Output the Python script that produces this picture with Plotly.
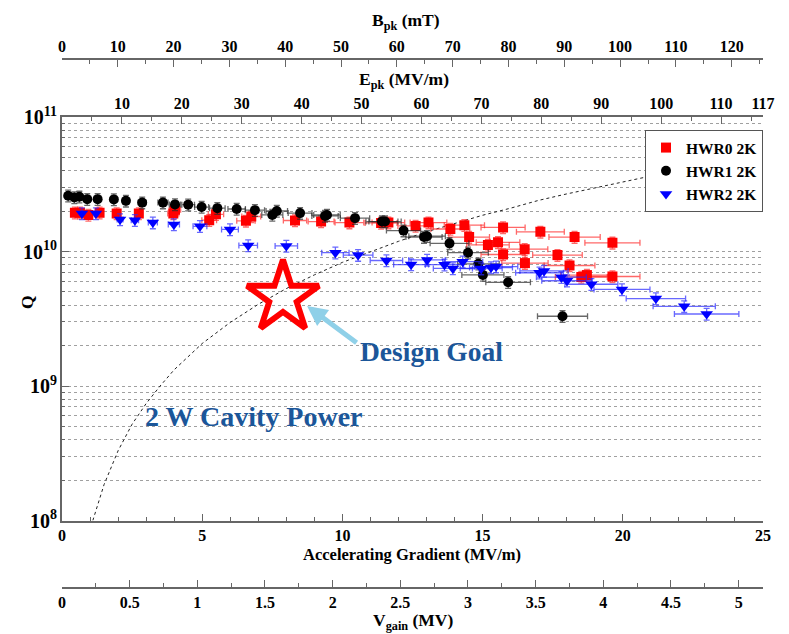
import plotly.graph_objects as go

# ---------------- data ----------------
# HWR0 2K (red squares): accelerating gradient (MV/m), Q0
hwr0_e = [0.46, 0.64, 0.94, 1.34, 1.95, 2.74, 3.97, 4.03, 5.25, 5.49, 6.56, 6.75,
          8.31, 9.24, 10.25, 11.38, 11.64, 12.61, 13.07, 13.85, 14.35, 14.52,
          15.19, 15.55, 15.73, 15.73, 16.5, 16.51, 17.06, 17.67, 18.1, 18.28,
          18.52, 18.72, 19.63, 19.63]
hwr0_q = [1.94e10, 1.94e10, 1.87e10, 1.94e10, 1.92e10, 1.92e10, 1.92e10, 2.04e10,
          1.71e10, 1.89e10, 1.69e10, 1.82e10, 1.70e10, 1.67e10, 1.64e10, 1.63e10,
          1.64e10, 1.55e10, 1.64e10, 1.47e10, 1.57e10, 1.28e10, 1.12e10, 1.17e10,
          1.51e10, 9.5e9, 1.04e10, 8.2e9, 1.40e10, 9.4e9, 7.87e9, 1.28e10,
          6.46e9, 6.68e9, 1.16e10, 6.52e9]

# HWR1 2K (black circles)
hwr1_e = [0.22, 0.44, 0.62, 0.90, 1.27, 1.85, 2.28, 2.86, 3.60, 4.03, 4.50, 4.98,
          5.54, 6.23, 6.88, 7.50, 7.66, 8.49, 9.38, 9.45, 10.45, 11.41, 11.52,
          12.18, 12.91, 13.02, 13.82, 14.48, 14.85, 15.01, 15.91, 17.85]
hwr1_q = [2.60e10, 2.52e10, 2.55e10, 2.45e10, 2.45e10, 2.44e10, 2.38e10, 2.31e10,
          2.31e10, 2.24e10, 2.23e10, 2.14e10, 2.10e10, 2.07e10, 2.03e10, 1.87e10,
          2.00e10, 1.93e10, 1.84e10, 1.87e10, 1.77e10, 1.67e10, 1.67e10, 1.43e10,
          1.28e10, 1.30e10, 1.15e10, 9.8e9, 8.1e9, 6.7e9, 5.9e9, 3.3e9]

# HWR2 2K (blue down-triangles)
hwr2_e = [0.71, 1.21, 2.07, 2.60, 3.24, 3.99, 4.92, 5.99, 6.64, 8.00, 9.75, 10.56,
          11.57, 12.45, 13.02, 13.64, 13.94, 14.29, 14.95, 15.30, 15.48, 17.03,
          17.19, 17.81, 18.01, 18.88, 19.97, 21.18, 22.19, 22.99]
hwr2_q = [1.92e10, 1.92e10, 1.73e10, 1.71e10, 1.64e10, 1.59e10, 1.54e10, 1.46e10,
          1.11e10, 1.10e10, 9.8e9, 9.4e9, 8.57e9, 8.0e9, 8.65e9, 7.98e9, 7.48e9,
          8.4e9, 7.46e9, 7.6e9, 7.72e9, 6.95e9, 7.17e9, 6.44e9, 6.06e9, 5.71e9,
          5.22e9, 4.47e9, 3.91e9, 3.43e9]

# 2 W cavity power curve (dotted)
p2w_e = [1.1, 1.5, 2, 2.5, 3, 3.5, 4, 5, 6, 7, 8, 9, 10, 11, 12, 13, 14, 15, 16,
         17, 18, 19, 20, 21, 22, 23, 24, 25]
p2w_q = [1.0e8, 1.85e8, 3.3e8, 5.2e8, 7.4e8, 1.0e9, 1.32e9, 2.07e9, 2.97e9, 4.05e9,
         5.3e9, 6.7e9, 8.3e9, 1.0e10, 1.19e10, 1.4e10, 1.62e10, 1.86e10, 2.1e10,
         2.4e10, 2.68e10, 2.98e10, 3.3e10, 3.64e10, 4.0e10, 4.37e10, 4.76e10, 5.16e10]

# design goal
goal_e = [7.88]
goal_q = [4.55e9]

# axis ranges / ticks
eacc_max = 25
vgain_max = 5.18
epk_max = 117
bpk_max = 125.6
epk_ticks = [10, 20, 30, 40, 50, 60, 70, 80, 90, 100, 110, 117]
epk_minor = [5, 15, 25, 35, 45, 55, 65, 75, 85, 95, 105, 115]

series_names = ["HWR0 2K", "HWR1 2K", "HWR2 2K"]

# ---------------- figure ----------------
FONT = "Liberation Serif"
AX = "#666666"

fig = go.Figure()

def data_trace(x, y, name, color, ecolor, symbol, size):
    return go.Scatter(
        x=x, y=y, name=name, mode="markers",
        marker=dict(symbol=symbol, size=size, color=color, line=dict(width=0)),
        error_x=dict(type="percent", value=5, color=ecolor, thickness=1.3, width=3),
        error_y=dict(type="percent", value=10, color=ecolor, thickness=1.3, width=3),
        hoverinfo="x+y+name",
    )

fig.add_trace(go.Scatter(x=p2w_e, y=p2w_q, mode="lines", showlegend=False,
                         line=dict(color="#222222", width=1, dash="dot"),
                         hoverinfo="skip"))
fig.add_trace(data_trace(hwr0_e, hwr0_q, series_names[0], "#ff0000",
                         "rgba(255,40,40,0.7)", "square", 10))
fig.add_trace(data_trace(hwr1_e, hwr1_q, series_names[1], "#000000",
                         "rgba(40,40,40,0.7)", "circle", 10))
fig.add_trace(data_trace(hwr2_e, hwr2_q, series_names[2], "#0000ff",
                         "rgba(40,40,255,0.7)", "triangle-down", 11))
fig.add_trace(go.Scatter(x=goal_e, y=goal_q, mode="markers", showlegend=False,
                         marker=dict(symbol="star-open", size=54, color="#ff0000",
                                     line=dict(color="#ff0000", width=6)),
                         hoverinfo="skip"))
# dummy traces so the extra axes are drawn
for ax in ["x2", "x3", "x4"]:
    fig.add_trace(go.Scatter(x=[], y=[], xaxis=ax, yaxis="y", showlegend=False,
                             hoverinfo="skip"))

H = 634
def py(p):
    return (H - p) / H

tickfont = dict(family=FONT, size=16, color="black", weight="bold")
common = dict(showline=True, linecolor=AX, linewidth=1.5, ticks="inside",
              tickcolor=AX, tickwidth=1.3, ticklen=7, showgrid=False,
              zeroline=False, tickfont=tickfont, automargin=False)

fig.update_layout(
    width=789, height=634,
    margin=dict(l=62, r=26, t=0, b=0),
    paper_bgcolor="white", plot_bgcolor="white",
    font=dict(family=FONT, color="black"),
    xaxis=dict(domain=[0, 1], range=[0, eacc_max], anchor="y", side="bottom",
               tick0=0, dtick=5,
               minor=dict(ticks="inside", ticklen=4, dtick=1, tick0=0, tickcolor=AX),
               **common),
    xaxis2=dict(overlaying="x", anchor="free", position=py(588), side="bottom",
                range=[0, vgain_max], tick0=0, dtick=0.5,
                minor=dict(ticks="inside", ticklen=4, dtick=0.25, tick0=0, tickcolor=AX),
                **common),
    xaxis3=dict(overlaying="x", anchor="y", side="top", range=[0, epk_max],
                tickmode="array", tickvals=epk_ticks,
                minor=dict(ticks="inside", ticklen=4, tickmode="array",
                           tickvals=epk_minor, tickcolor=AX),
                **common),
    xaxis4=dict(overlaying="x", anchor="free", position=py(59), side="top",
                range=[0, bpk_max], tick0=0, dtick=10,
                minor=dict(ticks="inside", ticklen=4, dtick=5, tick0=0, tickcolor=AX),
                **common),
    yaxis=dict(domain=[py(520.5), py(117)], type="log", range=[8, 11], dtick=1,
               exponentformat="power", showline=True, linecolor=AX, linewidth=1.5,
               ticks="inside", ticklen=7, tickcolor=AX, tickwidth=1.3,
               showgrid=True, gridcolor="#a0a0a0", griddash="dot", gridwidth=1,
               minor=dict(dtick="D1", showgrid=True, gridcolor="#a0a0a0",
                          griddash="dot", gridwidth=1, ticks="inside", ticklen=3,
                          tickcolor=AX),
               zeroline=False, tickfont=tickfont, automargin=False),
    legend=dict(x=1, xanchor="right", y=py(130), yanchor="top",
                bgcolor="white", bordercolor="#555555", borderwidth=1,
                font=dict(family=FONT, size=15.5, color="black", weight="bold"),
                tracegroupgap=0),
    showlegend=True,
)

def px_x(p):
    return (p - 62) / 701

title_font = dict(family=FONT, size=17.5, color="black", weight="bold")
annots = [
    dict(text="B<sub>pk</sub> (mT)", x=px_x(406), y=py(21), size=17.5),
    dict(text="E<sub>pk</sub> (MV/m)", x=px_x(404), y=py(80), size=17.5),
    dict(text="Accelerating Gradient (MV/m)", x=px_x(412), y=py(554), size=16.5),
    dict(text="V<sub>gain</sub> (MV)", x=px_x(413), y=py(621), size=17.5),
]
for a in annots:
    f = dict(title_font, size=a.pop("size"))
    fig.add_annotation(xref="paper", yref="paper", showarrow=False,
                       xanchor="center", yanchor="middle", font=f, **a)
fig.add_annotation(xref="paper", yref="paper", x=px_x(15), y=py(302), text="Q",
                   textangle=-90, showarrow=False, font=title_font)

blue_txt = "#1b5699"
fig.add_annotation(xref="x", yref="y", x=13.16, y=9.253, text="Design Goal",
                   showarrow=False,
                   font=dict(family=FONT, size=27.5, color=blue_txt, weight="bold"))
fig.add_annotation(xref="x", yref="y", x=6.85, y=8.770, text="2 W Cavity Power",
                   showarrow=False,
                   font=dict(family=FONT, size=28, color=blue_txt, weight="bold"))
fig.add_annotation(xref="x", yref="y", x=8.74, y=9.595, text="", showarrow=True,
                   ax=51, ay=38, arrowcolor="#8fd0e8", arrowwidth=5,
                   arrowhead=2, arrowsize=0.8)

fig.write_html("out.html")
